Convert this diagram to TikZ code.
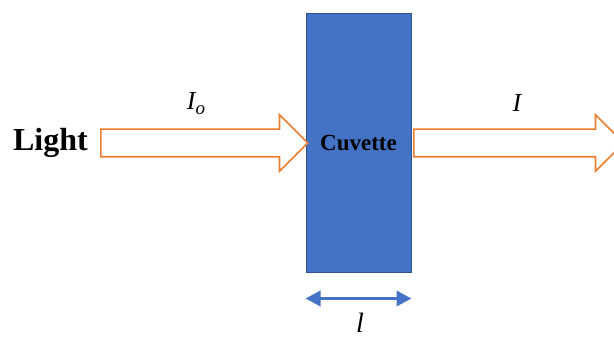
\documentclass[tikz,border=0pt]{standalone}
\usepackage{fontspec}
\setmainfont{Liberation Serif}
\usepackage{tikz}
\usetikzlibrary{arrows.meta,positioning,calc,shapes.arrows}
\definecolor{beamorange}{HTML}{ED7D31}
\definecolor{cuvblue}{HTML}{4472C4}
\definecolor{cuvedge}{HTML}{2F528F}
\newcommand{\subo}{\raisebox{-5pt}{\fontsize{19}{20}\selectfont o}}
\tikzset{>=Latex,cuv/.style={draw=cuvedge,line width=1pt,fill=cuvblue,minimum width=105pt,minimum height=258pt,inner sep=0pt,font=\bfseries\fontsize{23}{26}\selectfont},beam/.style={single arrow,draw=beamorange,line width=1.6pt,fill=white,single arrow head extend=14.5pt,single arrow tip angle=90,inner xsep=0pt,inner ysep=13pt,anchor=tail},dimarr/.style={{Triangle[length=15pt,width=15pt]}-{Triangle[length=15pt,width=15pt]},line width=3.5pt,cuvblue},lbl/.style={font=\itshape\fontsize{26}{28}\selectfont,inner sep=0pt}}

\begin{document}
\begin{tikzpicture}[x=1pt,y=1pt]
\useasboundingbox (0,0) rectangle (614,338);
\node[cuv] (cuv) at (358.5,195) {Cuvette};
\node[beam,minimum height=207pt] (lin) at (100,195) {};
\node[beam,minimum height=210pt] (lout) at (413,195) {};
\node[font=\bfseries\fontsize{32}{36}\selectfont,left=12pt of lin.tail,inner sep=0pt] (light) {Light};
\node[lbl] (Io) at (196,234) {I\subo};
\node[lbl] (I) at (517,235) {I};
\coordinate (da) at ($(cuv.south west)+(0,-26)$);
\coordinate (db) at ($(cuv.south east)+(0,-26)$);
\draw[dimarr] (da) -- (db);
\node[lbl,font=\itshape\fontsize{28}{30}\selectfont] (len) at (360,15) {l};
\end{tikzpicture}
\end{document}
